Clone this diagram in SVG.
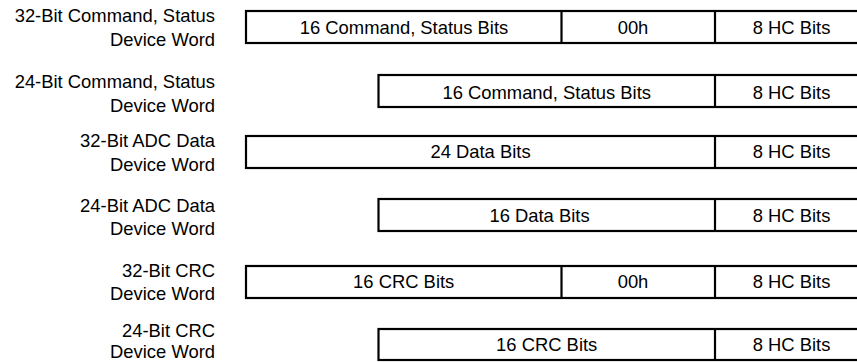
<svg xmlns="http://www.w3.org/2000/svg" width="857" height="362" viewBox="0 0 857 362">
<style>
text{font-family:"Liberation Sans",Arial,sans-serif;font-size:18.4px;fill:#000}
.lbl{text-anchor:end}
.c{text-anchor:middle}
.box{fill:#fff;stroke:#000;stroke-width:2.2}
.div{stroke:#000;stroke-width:2.2}
</style>
<rect width="857" height="362" fill="#fff"/>
<g id="row1">
<text class="lbl" x="215" y="21.7">32-Bit Command, Status</text>
<text class="lbl" x="215" y="45.7">Device Word</text>
<rect class="box" x="246" y="11" width="630" height="32"/>
<line class="div" x1="561.5" y1="11" x2="561.5" y2="43"/>
<line class="div" x1="715" y1="11" x2="715" y2="43"/>
<text class="c" x="404" y="34">16 Command, Status Bits</text>
<text class="c" x="633" y="34">00h</text>
<text class="c" x="791.5" y="34">8 HC Bits</text>
</g>
<g id="row2">
<text class="lbl" x="215" y="88.3">24-Bit Command, Status</text>
<text class="lbl" x="215" y="111.7">Device Word</text>
<rect class="box" x="378.5" y="75" width="500" height="32"/>
<line class="div" x1="715" y1="75" x2="715" y2="107"/>
<text class="c" x="546.7" y="99.3">16 Command, Status Bits</text>
<text class="c" x="791.5" y="99.3">8 HC Bits</text>
</g>
<g id="row3">
<text class="lbl" x="215" y="147.3">32-Bit ADC Data</text>
<text class="lbl" x="215" y="170.7">Device Word</text>
<rect class="box" x="246" y="136" width="630" height="32"/>
<line class="div" x1="715" y1="136" x2="715" y2="168"/>
<text class="c" x="480.5" y="158.3">24 Data Bits</text>
<text class="c" x="791.5" y="158.3">8 HC Bits</text>
</g>
<g id="row4">
<text class="lbl" x="215" y="211.7">24-Bit ADC Data</text>
<text class="lbl" x="215" y="235">Device Word</text>
<rect class="box" x="378.5" y="199" width="500" height="32"/>
<line class="div" x1="715" y1="199" x2="715" y2="231"/>
<text class="c" x="539.5" y="221.7">16 Data Bits</text>
<text class="c" x="791.5" y="221.7">8 HC Bits</text>
</g>
<g id="row5">
<text class="lbl" x="215" y="276.7">32-Bit CRC</text>
<text class="lbl" x="215" y="300">Device Word</text>
<rect class="box" x="246" y="266" width="630" height="32"/>
<line class="div" x1="561.5" y1="266" x2="561.5" y2="298"/>
<line class="div" x1="715" y1="266" x2="715" y2="298"/>
<text class="c" x="403.7" y="288.3">16 CRC Bits</text>
<text class="c" x="633" y="288.3">00h</text>
<text class="c" x="791.5" y="288.3">8 HC Bits</text>
</g>
<g id="row6">
<text class="lbl" x="215" y="336.5">24-Bit CRC</text>
<text class="lbl" x="215" y="358">Device Word</text>
<rect class="box" x="378.5" y="329" width="500" height="31"/>
<line class="div" x1="715" y1="329" x2="715" y2="360"/>
<text class="c" x="546.7" y="351">16 CRC Bits</text>
<text class="c" x="791.5" y="351">8 HC Bits</text>
</g>
<g id="connectors"></g>
</svg>
